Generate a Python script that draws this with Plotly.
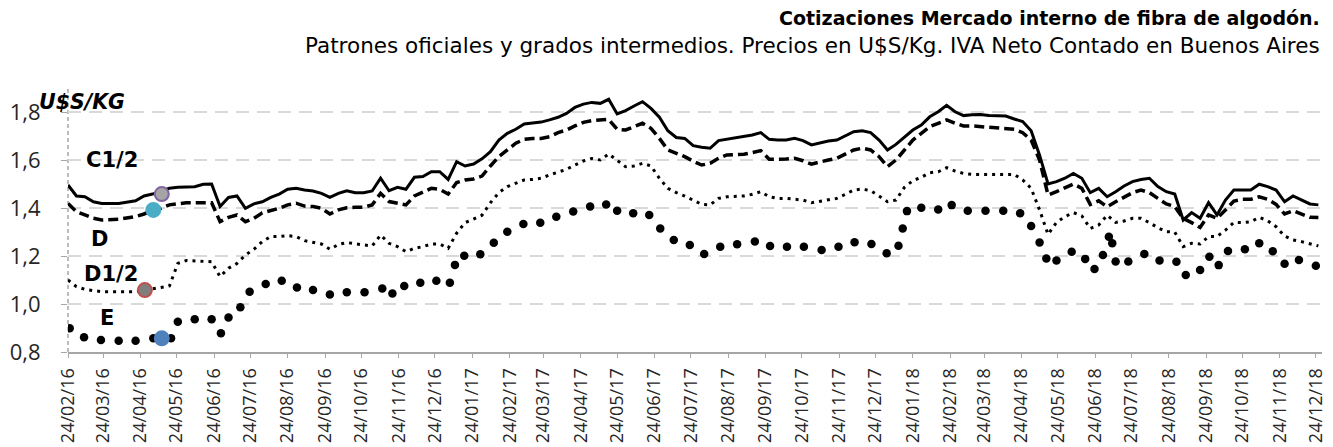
import numpy as np
import pandas as pd
import plotly.graph_objects as go

# ---------------- data ----------------
START = pd.Timestamp("2016-02-24")
AXIS_END = "2018-12-29"
tick_start = "2016-02-24"

# weeks since START and prices (U$S/kg)
c12_weeks = [0, 1, 2, 3, 4, 6, 8, 9, 10, 12, 13, 14, 15, 16, 17, 18, 19, 20, 21, 22, 23, 24, 25, 26, 27, 28, 29, 30,
             31, 32, 33, 34, 35, 36, 37, 38, 39, 40, 41, 42, 43, 44, 45, 46, 47, 48, 49, 50, 51, 52, 53, 54, 55, 56,
             57, 58, 59, 60, 61, 62, 63, 64, 65, 66, 67, 68, 69, 70, 71, 72, 73, 74, 75, 76, 77, 78, 79, 80, 81, 82,
             83, 84, 85, 86, 87, 88, 89, 90, 91, 92, 93, 94, 95, 96, 97, 98, 99, 100, 101, 102, 103, 104, 105, 106,
             107, 108, 109, 110, 111, 112, 113, 114, 115, 116, 117, 118, 119, 120, 121, 122, 123, 124, 125, 126, 127,
             128, 129, 130, 131, 132, 133, 134, 135, 136, 137, 138, 139, 140, 141, 142, 143, 144, 145, 146, 147, 148]
c12_vals = [1.496, 1.450, 1.447, 1.426, 1.419, 1.419, 1.430, 1.450, 1.458, 1.482, 1.486, 1.486, 1.489, 1.499, 1.500,
            1.406, 1.444, 1.450, 1.399, 1.417, 1.426, 1.444, 1.458, 1.478, 1.482, 1.475, 1.471, 1.461, 1.444, 1.461,
            1.472, 1.464, 1.464, 1.471, 1.524, 1.472, 1.486, 1.478, 1.528, 1.531, 1.551, 1.551, 1.519, 1.593, 1.575,
            1.583, 1.605, 1.635, 1.683, 1.711, 1.728, 1.750, 1.753, 1.758, 1.767, 1.778, 1.794, 1.819, 1.833, 1.840,
            1.836, 1.853, 1.792, 1.806, 1.825, 1.843, 1.815, 1.778, 1.722, 1.694, 1.690, 1.660, 1.653, 1.649, 1.681,
            1.687, 1.693, 1.700, 1.704, 1.714, 1.686, 1.683, 1.683, 1.690, 1.681, 1.663, 1.672, 1.679, 1.683, 1.700,
            1.718, 1.722, 1.714, 1.683, 1.642, 1.665, 1.697, 1.725, 1.746, 1.780, 1.801, 1.828, 1.801, 1.785, 1.789,
            1.790, 1.785, 1.783, 1.783, 1.771, 1.760, 1.722, 1.620, 1.500, 1.510, 1.524, 1.544, 1.524, 1.464, 1.482,
            1.447, 1.468, 1.492, 1.510, 1.519, 1.524, 1.489, 1.468, 1.458, 1.350, 1.381, 1.357, 1.422, 1.371, 1.433,
            1.475, 1.475, 1.475, 1.499, 1.489, 1.475, 1.426, 1.450, 1.433, 1.417, 1.413]

d_weeks = [0, 1, 2, 3, 4, 6, 8, 9, 10, 11, 12, 14, 17, 18, 19, 20, 21, 22, 23, 24, 25, 26, 27, 28, 29, 30, 31, 32,
           33, 34, 35, 36, 37, 38, 39, 40, 41, 42, 43, 44, 45, 46, 47, 48, 49, 50, 51, 52, 53, 54, 55, 56, 57, 58,
           59, 60, 61, 62, 63, 64, 65, 66, 67, 68, 69, 70, 71, 72, 73, 74, 75, 76, 77, 78, 79, 80, 81, 82, 83, 84,
           85, 86, 87, 88, 89, 90, 91, 92, 93, 94, 95, 96, 97, 98, 99, 100, 101, 102, 103, 104, 105, 106, 107, 108,
           109, 110, 111, 112, 113, 114, 115, 116, 117, 118, 119, 120, 121, 122, 123, 124, 125, 126, 127, 128, 129,
           130, 131, 132, 133, 134, 135, 136, 137, 138, 139, 140, 141, 142, 143, 144, 145, 146, 147, 148]
d_vals = [1.419, 1.385, 1.371, 1.357, 1.350, 1.353, 1.364, 1.375, 1.392, 1.399, 1.413, 1.422, 1.422, 1.343, 1.361,
          1.371, 1.343, 1.357, 1.380, 1.390, 1.399, 1.413, 1.420, 1.408, 1.406, 1.399, 1.375, 1.392, 1.401, 1.403,
          1.403, 1.413, 1.461, 1.427, 1.420, 1.413, 1.450, 1.468, 1.482, 1.478, 1.458, 1.506, 1.517, 1.521, 1.533,
          1.575, 1.614, 1.642, 1.670, 1.686, 1.690, 1.690, 1.697, 1.714, 1.725, 1.742, 1.757, 1.764, 1.767, 1.769,
          1.728, 1.725, 1.739, 1.753, 1.732, 1.690, 1.642, 1.628, 1.614, 1.595, 1.579, 1.586, 1.607, 1.621, 1.621,
          1.624, 1.631, 1.639, 1.603, 1.603, 1.604, 1.607, 1.597, 1.583, 1.593, 1.600, 1.607, 1.624, 1.642, 1.649,
          1.642, 1.614, 1.572, 1.600, 1.644, 1.683, 1.711, 1.739, 1.753, 1.767, 1.753, 1.742, 1.742, 1.739, 1.736,
          1.735, 1.732, 1.728, 1.714, 1.683, 1.600, 1.454, 1.468, 1.486, 1.500, 1.482, 1.415, 1.430, 1.405, 1.426,
          1.447, 1.464, 1.475, 1.464, 1.440, 1.417, 1.406, 1.357, 1.339, 1.319, 1.371, 1.357, 1.392, 1.429, 1.436,
          1.436, 1.447, 1.436, 1.415, 1.375, 1.389, 1.375, 1.361, 1.360]

d12_weeks = [0, 1, 2, 4, 8, 10, 11, 12, 13, 14, 16, 17, 18, 19, 20, 21, 22, 23, 24, 25, 26, 27, 28, 29, 30, 31, 32,
             33, 34, 35, 36, 37, 38, 39, 40, 41, 42, 43, 44, 45, 46, 47, 48, 49, 50, 51, 52, 53, 54, 55, 56, 57, 58,
             59, 60, 61, 62, 63, 64, 65, 66, 67, 68, 69, 70, 71, 72, 73, 74, 75, 76, 77, 78, 79, 80, 81, 82, 83, 84,
             85, 86, 87, 88, 89, 90, 91, 92, 93, 94, 95, 96, 97, 98, 99, 100, 101, 102, 103, 104, 105, 106, 107, 112,
             113, 114, 115, 116, 117, 118, 119, 120, 121, 122, 123, 124, 125, 126, 127, 128, 129, 130, 131, 132, 133,
             134, 135, 136, 137, 138, 139, 140, 141, 142, 143, 144, 145, 146, 147, 148]
d12_vals = [1.100, 1.072, 1.061, 1.051, 1.051, 1.061, 1.069, 1.075, 1.169, 1.181, 1.176, 1.176, 1.114, 1.149, 1.169,
            1.204, 1.228, 1.260, 1.281, 1.281, 1.285, 1.281, 1.264, 1.256, 1.250, 1.228, 1.248, 1.256, 1.250, 1.246,
            1.242, 1.287, 1.253, 1.239, 1.218, 1.232, 1.239, 1.250, 1.250, 1.232, 1.295, 1.339, 1.354, 1.370, 1.422,
            1.464, 1.489, 1.503, 1.517, 1.519, 1.524, 1.538, 1.551, 1.561, 1.579, 1.596, 1.606, 1.600, 1.625, 1.597,
            1.572, 1.575, 1.586, 1.575, 1.524, 1.482, 1.464, 1.450, 1.434, 1.415, 1.413, 1.440, 1.447, 1.447, 1.450,
            1.457, 1.468, 1.447, 1.440, 1.440, 1.436, 1.433, 1.422, 1.429, 1.436, 1.440, 1.457, 1.475, 1.479, 1.472,
            1.450, 1.426, 1.433, 1.486, 1.514, 1.528, 1.547, 1.551, 1.568, 1.554, 1.544, 1.540, 1.540, 1.517, 1.482,
            1.392, 1.290, 1.340, 1.364, 1.381, 1.367, 1.315, 1.329, 1.370, 1.340, 1.346, 1.357, 1.357, 1.339, 1.318,
            1.301, 1.300, 1.239, 1.253, 1.250, 1.281, 1.281, 1.308, 1.340, 1.339, 1.343, 1.361, 1.347, 1.322, 1.283,
            1.267, 1.260, 1.250, 1.242]

e_weeks = [0.2, 1.9, 3.9, 6.0, 8.0, 10.1, 12.2, 13.0, 15.0, 17.0, 18.1, 19.0, 20.4, 21.5, 23.4, 25.3, 27.1, 29.0,
           31.0, 33.0, 35.1, 37.2, 38.4, 39.8, 41.7, 43.6, 45.2, 45.8, 46.9, 48.8, 50.4, 52.0, 53.9, 55.9, 57.8,
           59.8, 61.8, 63.7, 65.0, 66.9, 68.8, 70.1, 71.7, 73.6, 75.3, 77.2, 79.2, 81.3, 83.1, 85.1, 87.1, 89.2,
           91.2, 93.1, 95.1, 96.9, 98.3, 98.8, 99.3, 101.0, 103.0, 104.6, 106.5, 108.6, 110.7, 112.7, 114.0, 115.0,
           115.8, 117.0, 118.8, 120.4, 121.5, 122.5, 123.2, 123.6, 124.0, 125.5, 127.4, 129.2, 131.2, 132.3, 134.0,
           135.1, 136.2, 137.3, 139.3, 141.0, 142.6, 144.0, 145.7, 147.7]
e_vals = [0.899, 0.861, 0.850, 0.847, 0.847, 0.857, 0.857, 0.926, 0.936, 0.936, 0.878, 0.944, 0.986, 1.051, 1.083,
          1.097, 1.069, 1.058, 1.040, 1.049, 1.049, 1.065, 1.044, 1.075, 1.089, 1.097, 1.089, 1.163, 1.201, 1.207,
          1.255, 1.301, 1.333, 1.339, 1.364, 1.385, 1.406, 1.415, 1.389, 1.378, 1.371, 1.315, 1.267, 1.246, 1.208,
          1.239, 1.249, 1.260, 1.242, 1.239, 1.239, 1.225, 1.239, 1.257, 1.250, 1.211, 1.243, 1.315, 1.387, 1.401,
          1.394, 1.412, 1.389, 1.389, 1.389, 1.378, 1.325, 1.256, 1.190, 1.181, 1.218, 1.188, 1.146, 1.204, 1.280,
          1.253, 1.177, 1.177, 1.208, 1.181, 1.176, 1.121, 1.142, 1.197, 1.162, 1.221, 1.228, 1.253, 1.220, 1.168,
          1.183, 1.159]

# series label markers (one point per series)
mark_names = ["C1/2", "D", "D1/2", "E"]
mark_weeks = [11.1, 10.1, 9.1, 11.1]
mark_vals = [1.458, 1.392, 1.058, 0.857]

title_text = "Cotizaciones Mercado interno de fibra de algodón."
subtitle_text = "Patrones oficiales y grados intermedios. Precios en U$S/Kg. IVA Neto Contado en Buenos Aires"
unit_text = "U$S/KG"


def to_dates(weeks):
    return [START + pd.Timedelta(days=float(w) * 7) for w in weeks]


FONT = "Open Sans"
TFONT = "DejaVu Sans"

fig = go.Figure()

fig.add_trace(go.Scatter(x=to_dates(e_weeks), y=e_vals, mode="markers", name="E",
                         marker=dict(color="black", size=8.5), hoverinfo="skip"))
fig.add_trace(go.Scatter(x=to_dates(d12_weeks), y=d12_vals, mode="lines", name="D1/2",
                         line=dict(color="black", width=3, dash="3px,5px"), hoverinfo="skip"))
fig.add_trace(go.Scatter(x=to_dates(d_weeks), y=d_vals, mode="lines", name="D",
                         line=dict(color="black", width=3.5, dash="10px,5px"), hoverinfo="skip"))
fig.add_trace(go.Scatter(x=to_dates(c12_weeks), y=c12_vals, mode="lines", name="C1/2",
                         line=dict(color="black", width=3), hoverinfo="skip"))

mark_fill = ["#A5A5A5", "#4BACC6", "#7F7F7F", "#4F81BD"]
mark_line = ["#8064A2", "#4BACC6", "#C0504D", "#4F81BD"]
for i in range(4):
    fig.add_trace(go.Scatter(x=to_dates([mark_weeks[i]]), y=[mark_vals[i]], mode="markers",
                             marker=dict(size=14, color=mark_fill[i],
                                         line=dict(color=mark_line[i], width=2)),
                             hoverinfo="skip"))

# the page adds an 8px body margin, so the figure is 8px smaller than the window
W, H = 1325, 439
L, R, T, B = 60, 11, 80, 95
pw, ph = W - L - R, H - T - B


def px(x):
    # x given in window pixels
    return (x - 8 - L) / pw


def py(y):
    # y given in window pixels
    return (H - B - (y - 8)) / ph


annotations = [
    dict(text="<b>" + title_text + "</b>", x=1, y=py(18), xanchor="right", yanchor="middle",
         font=dict(size=19, color="black", family=TFONT)),
    dict(text=subtitle_text, x=1, y=py(46), xanchor="right", yanchor="middle",
         font=dict(size=21.5, color="black", family=TFONT)),
    dict(text="<b><i>" + unit_text + "</i></b>", x=px(37), y=py(102), xanchor="left", yanchor="middle",
         font=dict(size=20.5, color="black", family=TFONT)),
]
label_pos = [(112, 160), (99, 239), (111, 274), (107, 318)]
for name, (lx, ly) in zip(mark_names, label_pos):
    annotations.append(dict(text="<b>" + name + "</b>", x=px(lx), y=py(ly), xanchor="center",
                            yanchor="middle", font=dict(size=21, color="black", family=TFONT)))
for a in annotations:
    a.update(xref="paper", yref="paper", showarrow=False)

fig.update_layout(
    width=W, height=H,
    margin=dict(l=L, r=R, t=T, b=B, pad=0, autoexpand=False),
    paper_bgcolor="white", plot_bgcolor="white",
    separators=",.",
    showlegend=False,
    font=dict(family=FONT, color="#262626"),
    annotations=annotations,
    shapes=[dict(type="line", xref="paper", yref="paper", x0=0, x1=0, y0=0, y1=1,
                 line=dict(color="#A6A6A6", width=1.5, dash="4px,3px"), layer="below")],
    xaxis=dict(type="date", range=[START, AXIS_END], tick0=tick_start, dtick="M1", automargin=False,
               tickformat="%d/%m/%y", tickangle=-90, tickfont=dict(size=18, family=FONT, color="#262626"),
               showgrid=False, zeroline=False, showline=True, linecolor="#A6A6A6", linewidth=2,
               ticks="outside", ticklen=4, tickcolor="#A6A6A6", ticklabelstandoff=3),
    yaxis=dict(range=[0.8, 1.9], tick0=0.8, dtick=0.2, tickformat=".1f", automargin=False,
               tickfont=dict(size=22, family=FONT, color="#262626"),
               showgrid=True, gridcolor="#D9D9D9", gridwidth=2, griddash="13px,8px",
               zeroline=False, showline=False, ticks="outside", ticklen=6, tickcolor="#A6A6A6",
               ticklabelstandoff=16),
)

fig.write_html("out.html")
